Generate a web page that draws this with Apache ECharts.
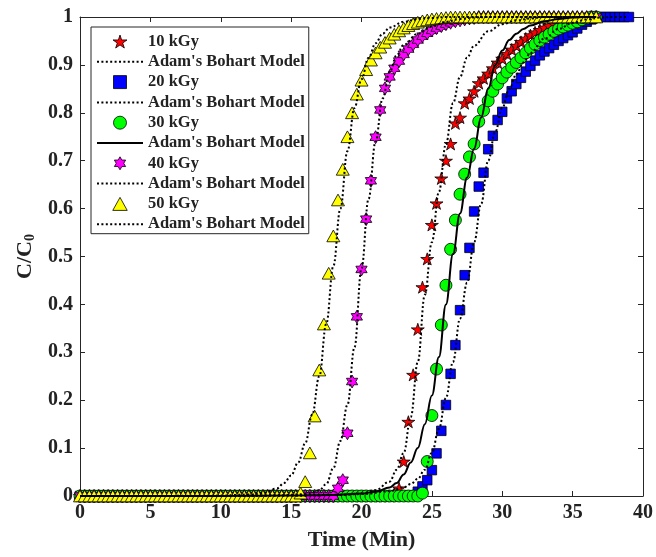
<!DOCTYPE html>
<html>
<head>
<meta charset="utf-8">
<script src="https://cdn.jsdelivr.net/npm/echarts@6/dist/echarts.min.js"></script>
<style>html,body{margin:0;padding:0;background:#fff}#c{width:656px;height:557px}</style>
</head>
<body>
<div id="c"></div>
<script>
// Sampling times (min), one reading every ~1/3 min
const T = [0,0.33,0.67,1,1.33,1.67,2,2.33,2.67,3,3.33,3.67,4,4.33,4.67,5,5.33,5.67,6,6.33,6.67,7,7.33,7.67,8,8.33,8.67,9,9.33,9.67,10,10.33,10.67,11,11.33,11.67,12,12.33,12.67,13,13.33,13.67,14,14.33,14.67,15,15.33,15.67,16,16.33,16.67,17,17.33,17.67,18,18.33,18.67,19,19.33,19.67,20,20.33,20.67,21,21.33,21.67,22,22.33,22.67,23,23.33,23.67,24,24.33,24.67,25,25.33,25.67,26,26.33,26.67,27,27.33,27.67,28,28.33,28.67,29,29.33,29.67,30,30.33,30.67,31,31.33,31.67,32,32.33,32.67,33,33.33,33.67,34,34.33,34.67,35,35.33,35.67,36,36.33,36.67,37,37.33,37.67,38,38.33,38.67,39];

// C/C0 readings, aligned with T
const kGy10 = [0,0,0,0,0,0,0,0,0,0, 0,0,0,0,0,0,0,0,0,0, 0,0,0,0,0,0,0,0,0,0, 0,0,0,0,0,0,0,0,0,0, 0,0,0,0,0,0,0,0,0,0, 0,0,0,0,0,0,0,0,0,0, 0,0,0,0,0,0,0,
  0.005,0.016,0.072,0.155,0.253,0.348,0.436,0.495,0.566,0.611,0.663,0.70,0.735,0.778,0.79,0.82,0.83,0.845,0.862,0.872,0.882,0.893,0.905,0.913,0.923,0.932,0.94,0.948,0.955,0.962,0.968,0.973,0.978,0.982,0.986,0.989,0.991,0.993,0.995,0.997,0.998,
  1,1,1];
const kGy20 = [0,0,0,0,0,0,0,0,0,0, 0,0,0,0,0,0,0,0,0,0, 0,0,0,0,0,0,0,0,0,0, 0,0,0,0,0,0,0,0,0,0, 0,0,0,0,0,0,0,0,0,0, 0,0,0,0,0,0,0,0,0,0, 0,0,0,0,0,0,0,0,0,0, 0,0,
  0.009,0.02,0.033,0.054,0.089,0.136,0.19,0.255,0.315,0.388,0.461,0.518,0.594,0.646,0.675,0.724,0.752,0.785,0.802,0.83,0.845,0.86,0.873,0.886,0.898,0.909,0.92,0.928,0.935,0.942,0.95,0.956,0.962,0.968,0.976,0.984,0.99,0.995,
  1,1,1,1,1,1,1,1];
const kGy30 = [0,0,0,0,0,0,0,0,0,0, 0,0,0,0,0,0,0,0,0,0, 0,0,0,0,0,0,0,0,0,0, 0,0,0,0,0,0,0,0,0,0, 0,0,0,0,0,0,0,0,0,0, 0,0,0,0,0,0,0,0,0,0, 0,0,0,0,0,0,0,0,0,0, 0,0,0,
  0.006,0.072,0.168,0.265,0.357,0.44,0.515,0.576,0.63,0.672,0.708,0.735,0.782,0.805,0.825,0.845,0.86,0.873,0.885,0.895,0.905,0.915,0.925,0.935,0.943,0.951,0.958,0.964,0.97,0.975,0.979,0.983,0.987,0.99,0.994,0.997,
  1,1];
const kGy40 = [0,0,0,0,0,0,0,0,0,0, 0,0,0,0,0,0,0,0,0,0, 0,0,0,0,0,0,0,0,0,0, 0,0,0,0,0,0,0,0,0,0, 0,0,0,0,0,0,0,0,0,0, 0,0,0,0,0,
  0.016,0.033,0.131,0.239,0.374,0.473,0.578,0.658,0.749,0.806,0.851,0.875,0.893,0.908,0.922,0.933,0.943,0.952,0.96,0.966,0.972,0.977,0.981,0.985,0.988,0.991,0.993,0.995,0.997,0.998,
  1,1,1,1,1,1,1,1,1,1, 1,1,1,1,1,1,1,1,1,1, 1,1,1,1,1,1];
const kGy50 = [0,0,0,0,0,0,0,0,0,0, 0,0,0,0,0,0,0,0,0,0, 0,0,0,0,0,0,0,0,0,0, 0,0,0,0,0,0,0,0,0,0, 0,0,0,0,0,0,0,
  0.006,0.03,0.09,0.167,0.263,0.359,0.465,0.543,0.618,0.682,0.75,0.80,0.839,0.868,0.89,0.91,0.925,0.937,0.947,0.956,0.964,0.971,0.977,0.982,0.986,0.989,0.992,0.994,0.996,0.997,0.998,0.999,
  1,1,1,1,1,1,1,1,1,1, 1,1,1,1,1,1,1,1,1,1, 1,1,1,1,1,1,1,1,1,1, 1,1];

// Adam's Bohart model curves [time, C/C0]
const model10 = [[0,0],[10,0],[15,0.001],[18,0.002],[20,0.005],[21,0.012],[22,0.03],[22.5,0.055],[23,0.09],[23.5,0.165],[24,0.28],[24.5,0.42],[25,0.53],[25.5,0.635],[26,0.735],[26.5,0.82],[27,0.875],[27.5,0.915],[28,0.94],[29,0.97],[30,0.985],[31,0.993],[32,0.997],[33,1],[36.67,1]];
const model20 = [[0,0],[10,0],[15,0.001],[18,0.002],[20,0.004],[22,0.01],[23,0.018],[23.5,0.025],[24,0.036],[24.5,0.055],[25,0.09],[25.5,0.14],[26,0.205],[26.5,0.28],[27,0.37],[27.5,0.445],[28,0.53],[28.5,0.61],[29,0.7],[29.5,0.76],[30,0.81],[30.5,0.85],[31,0.88],[31.5,0.905],[32,0.925],[33,0.955],[34,0.975],[35,0.988],[36,0.995],[37,0.999],[38,1],[39,1]];
const model30 = [[0,0],[10,0],[15,0.001],[18,0.002],[20,0.005],[21,0.009],[22,0.018],[22.5,0.027],[23,0.045],[23.5,0.07],[24,0.1],[24.5,0.15],[25,0.21],[25.5,0.29],[26,0.4],[26.5,0.505],[27,0.59],[27.5,0.665],[28,0.725],[28.5,0.79],[29,0.85],[29.5,0.9],[30,0.93],[30.5,0.952],[31,0.965],[31.5,0.975],[32,0.982],[33,0.991],[34,0.996],[35,0.999],[36,1],[36.67,1]];
const model40 = [[0,0],[10,0],[14,0.001],[16,0.004],[16.5,0.007],[17,0.012],[17.5,0.025],[18,0.058],[18.5,0.115],[19,0.19],[19.5,0.31],[20,0.475],[20.5,0.62],[21,0.74],[21.5,0.83],[22,0.885],[22.5,0.92],[23,0.942],[24,0.965],[25,0.98],[26,0.99],[27,0.996],[28,0.999],[29,1],[36.67,1]];
const model50 = [[0,0],[5,0],[10,0.001],[12,0.003],[13,0.006],[14,0.016],[14.5,0.027],[15,0.043],[15.5,0.07],[16,0.11],[16.5,0.17],[17,0.25],[17.5,0.36],[18,0.48],[18.5,0.6],[19,0.72],[19.5,0.81],[20,0.87],[20.5,0.915],[21,0.945],[21.5,0.965],[22,0.978],[23,0.99],[24,0.996],[25,0.998],[26,1],[36.67,1]];

const xTicks = {min: 0, max: 40, interval: 5};
const yTicks = {min: 0, max: 1, interval: 0.1};

const FONT = "'Liberation Serif','Times New Roman',serif";
const AX = '#262626';
const TXT = '#222';
const STAR5 = 'path://M50,0L61.8,35.4L100,35.4L69.1,57.3L80.9,92.7L50,70.8L19.1,92.7L30.9,57.3L0,35.4L38.2,35.4Z';
const HEX = 'path://M50,0L64.43,25L93.3,25L78.87,50L93.3,75L64.43,75L50,100L35.57,75L6.7,75L21.13,50L6.7,25L35.57,25Z';
const SQUARE = 'path://M0,0L100,0L100,100L0,100Z';
const TRI = 'path://M50,0L100,90L0,90Z';

function pts(arr){ return arr.map((c,i)=>[T[i], c]); }
function scatter(name, arr, symbol, size, color){
  return {type:'scatter', name, data: pts(arr), symbol, symbolSize: size, symbolKeepAspect:true,
    itemStyle:{color, borderColor:'#000', borderWidth:0.8, opacity:1}, emphasis:{disabled:true}};
}
function model(name, arr, solid){
  return {type:'line', name, data: arr, showSymbol:false, symbol:'none', smooth:0.4, smoothMonotone:'x',
    itemStyle:{color:'#000', opacity:0},
    lineStyle:{color:'#000', width:2, type: solid ? 'solid' : [2,2.4]}, emphasis:{disabled:true}};
}
function markItem(name, color){ return {name, itemStyle:{color, borderColor:'#000', borderWidth:0.8}}; }
function modelItem(name){ return {name, itemStyle:{opacity:0}}; }

const chart = echarts.init(document.getElementById('c'), null, {renderer:'canvas'});
const axisCommon = {
  axisLine:{show:true, onZero:false, lineStyle:{color:AX, width:1}},
  axisTick:{show:true, inside:true, length:5, lineStyle:{color:AX}},
  splitLine:{show:false}
};
chart.setOption({
  animation:false,
  backgroundColor:'#fff',
  grid:{left:80, right:13, top:17, bottom:61},
  legend:{
    orient:'vertical', left:91, top:27,
    data:[markItem('10 kGy','#ff0000'), modelItem('Model 1'), markItem('20 kGy','#0000ff'), modelItem('Model 2'),
          markItem('30 kGy','#00ff00'), modelItem('Model 3'), markItem('40 kGy','#ff00ff'), modelItem('Model 4'),
          markItem('50 kGy','#ffff00'), modelItem('Model 5')],
    formatter: n => n.indexOf('Model') === 0 ? "Adam's Bohart Model" : n,
    itemWidth:46, itemHeight:13, itemGap:3.3,
    padding:[6,4,1,5],
    borderColor:'#262626', borderWidth:1, backgroundColor:'#fff',
    textStyle:{fontFamily:FONT, fontWeight:'bold', fontSize:16.5, color:TXT},
    selectedMode:false
  },
  xAxis:[
    Object.assign({type:'value', position:'bottom', ...xTicks,
      name:'Time (Min)', nameLocation:'middle', nameGap:33,
      nameTextStyle:{fontFamily:FONT, fontWeight:'bold', fontSize:22, color:TXT},
      axisLabel:{fontFamily:FONT, fontWeight:'bold', fontSize:20, color:TXT, margin:7}}, axisCommon),
    Object.assign({type:'value', position:'top', ...xTicks, axisLabel:{show:false}}, axisCommon)
  ],
  yAxis:[
    Object.assign({type:'value', position:'left', ...yTicks,
      name:'{a|C/C}{s|0}', nameLocation:'middle', nameRotate:90, nameGap:33,
      nameTextStyle:{rich:{
        a:{fontFamily:FONT, fontWeight:'bold', fontSize:22, color:TXT, lineHeight:24},
        s:{fontFamily:FONT, fontWeight:'bold', fontSize:14, color:TXT, lineHeight:11, verticalAlign:'bottom'}}},
      axisLabel:{fontFamily:FONT, fontWeight:'bold', fontSize:20, color:TXT, margin:7}}, axisCommon),
    Object.assign({type:'value', position:'right', ...yTicks, axisLabel:{show:false}}, axisCommon)
  ],
  series:[
    scatter('10 kGy', kGy10, STAR5, 13, '#ff0000'),
    model('Model 1', model10, false),
    scatter('20 kGy', kGy20, SQUARE, 9.5, '#0000ff'),
    model('Model 2', model20, false),
    scatter('30 kGy', kGy30, 'circle', 12, '#00ff00'),
    model('Model 3', model30, true),
    scatter('40 kGy', kGy40, HEX, 13, '#ff00ff'),
    model('Model 4', model40, false),
    scatter('50 kGy', kGy50, TRI, 13, '#ffff00'),
    model('Model 5', model50, false)
  ]
});
</script>
</body>
</html>
